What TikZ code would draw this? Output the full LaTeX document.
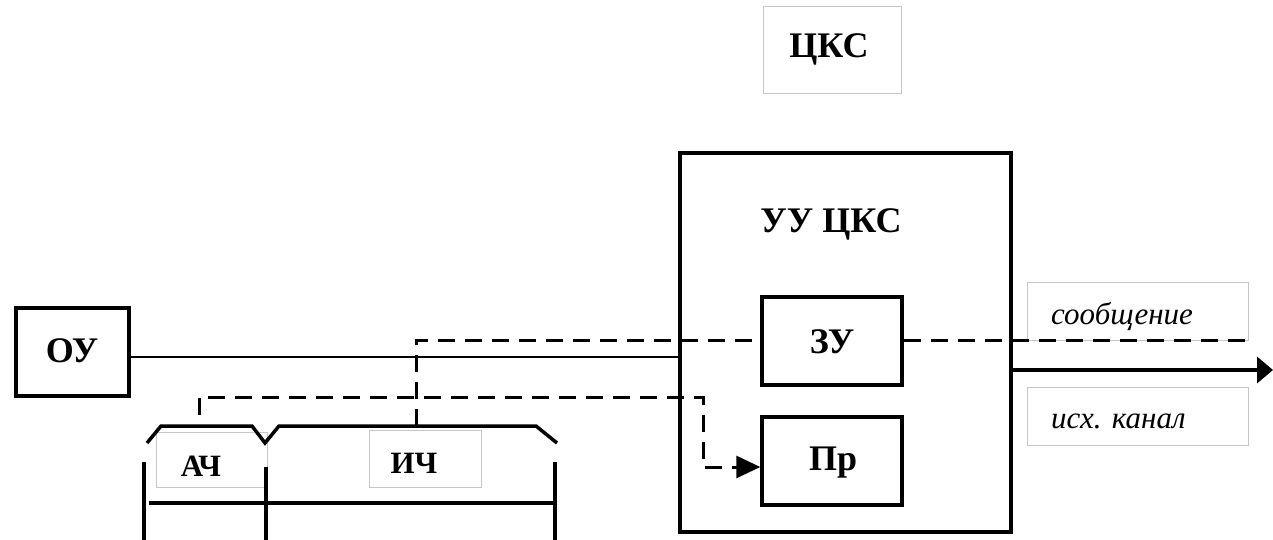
\documentclass[tikz,border=0pt]{standalone}
\usepackage{fontspec}
\setmainfont{Liberation Serif}
\usetikzlibrary{arrows.meta}
\tikzset{
  blk/.style={draw, line width=3.5pt, inner sep=0pt},
  lbl/.style={draw=black!22, line width=1pt, inner sep=0pt},
  txt/.style={font=\fontsize{36}{36}\selectfont\bfseries, inner sep=0pt, anchor=base},
  smtxt/.style={font=\fontsize{31}{31}\selectfont\bfseries, inner sep=0pt, anchor=base},
  ittxt/.style={font=\fontsize{31}{31}\selectfont\itshape, inner sep=0pt, anchor=base west},
  dsh/.style={line width=3pt, dash pattern=on 17pt off 10pt},
  thk/.style={line width=3.5pt},
  thin/.style={line width=1.5pt}
}
\begin{document}
\begin{tikzpicture}[x=1pt,y=-1pt]
\useasboundingbox (0,0) rectangle (1273,540);
% label boxes (gray)
\node[lbl, minimum width=138pt, minimum height=87pt] (cks) at (832,50.5) {};
\node[txt] (ckstext) at (829,58) {ЦКС};
\node[lbl, minimum width=221pt, minimum height=58pt] (msgbox) at (1137.5,311) {};
\node[ittxt] (msgtext) at (1051,324) {сообщение};
\node[lbl, minimum width=221pt, minimum height=58pt] (chbox) at (1137.5,416) {};
\node[ittxt] (chtext) at (1051,428) {исх. канал};
\node[lbl, minimum width=111pt, minimum height=55pt] (achbox) at (211.5,459.5) {};
\node[smtxt] (achtext) at (201,476) {АЧ};
\node[lbl, minimum width=112pt, minimum height=57pt] (ichbox) at (425,458.5) {};
\node[smtxt] (ichtext) at (414,473) {ИЧ};
% blocks
\node[blk, minimum width=113pt, minimum height=88pt] (ou) at (72.5,352) {};
\node[txt] (outext) at (72,362) {ОУ};
\node[blk, minimum width=331pt, minimum height=379pt] (uu) at (845.5,342.5) {};
\node[txt] (uutext) at (831,232) {УУ ЦКС};
\node[blk, minimum width=140pt, minimum height=88pt] (zu) at (832,341) {};
\node[txt] (zutext) at (832,353) {ЗУ};
\node[blk, minimum width=140pt, minimum height=88pt] (pr) at (832,461) {};
\node[txt] (prtext) at (833,470) {Пр};
% coordinates
\coordinate (j1) at (416,357);
\coordinate (ichtop) at (416,426);
\coordinate (msgend) at (1250,340);
\coordinate (achtop) at (199,415);
\coordinate (bend1) at (703,397);
\coordinate (prin) at (pr.west |- 0,467);
\coordinate (outend) at (1273,370);
% thin line
\draw[thin] (ou.east |- j1) -- (uu.west |- j1);
% dashed lines
\draw[dsh] (ichtop) -- (416,340) -- (zu.west |- 0,340);
\draw[dsh] (zu.east |- 0,340) -- (msgend);
\draw[dsh, -{Triangle[length=24pt,width=22pt]}] (achtop) -- (199,397) -- (bend1) -- (bend1 |- prin) -- (prin);
% output arrow
\draw[thk, -{Triangle[length=16pt,width=26pt]}] (uu.east |- outend) -- (outend);
% brackets
\draw[thk] (147,443) -- (161,426) -- (252,426) -- (265,443) -- (279,426) -- (536,426) -- (557,443);
\coordinate (b1) at (144,462);
\coordinate (b2) at (266,467);
\coordinate (b3) at (555,462);
\draw[thk] (b1) -- (b1 |- 0,540);
\draw[thk] (b2) -- (b2 |- 0,540);
\draw[thk] (b3) -- (b3 |- 0,540);
\draw[thk] (149,503) -- (555,503);
\end{tikzpicture}
\end{document}
